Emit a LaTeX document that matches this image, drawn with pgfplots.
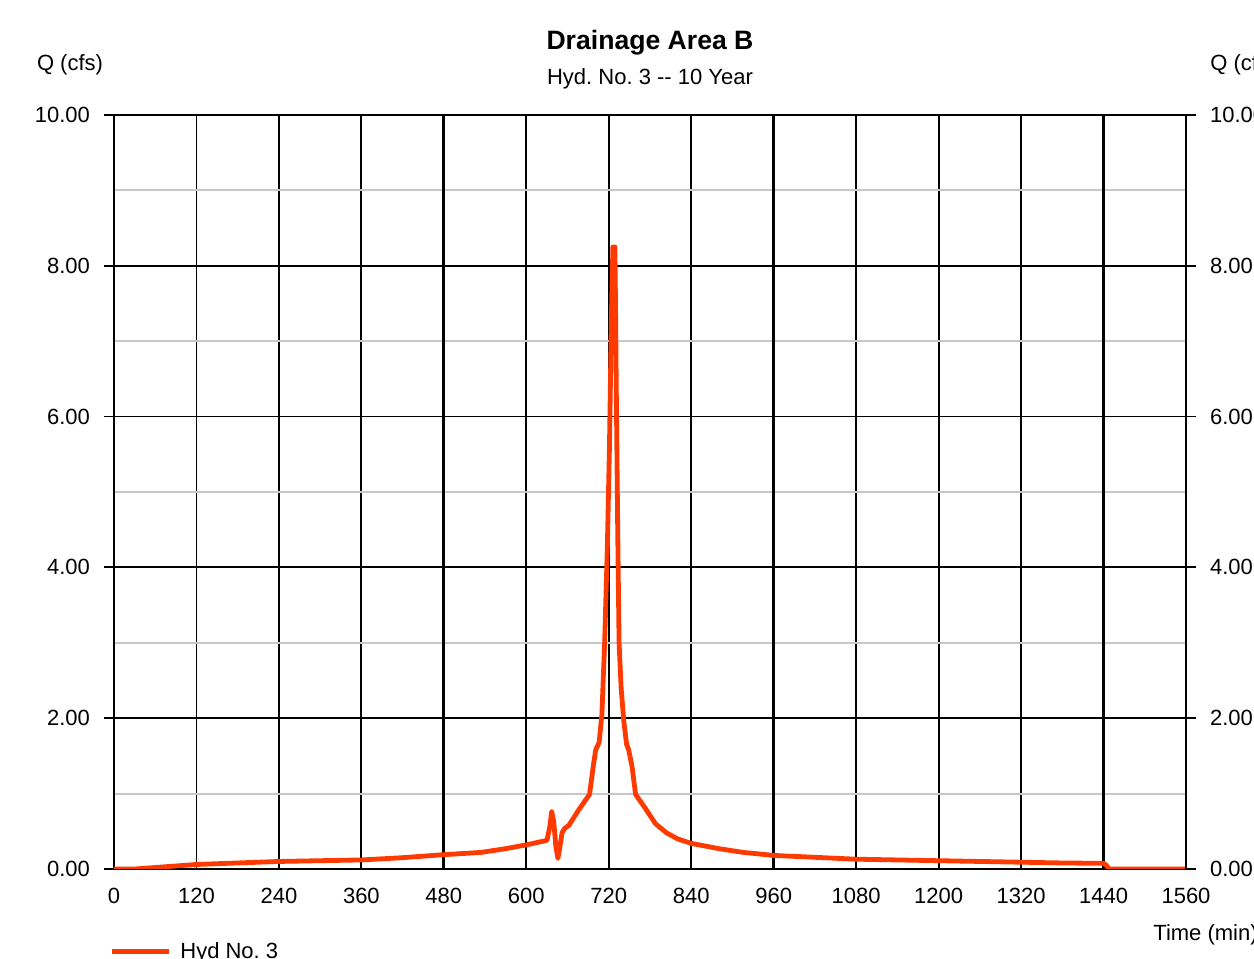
\documentclass[border=0pt]{standalone}
\usepackage{fontspec}
\setmainfont{Liberation Sans}
\usepackage{pgfplots}
\pgfplotsset{compat=1.18}
\frenchspacing

\definecolor{hydline}{RGB}{255,58,0}
\definecolor{minorgrid}{RGB}{200,200,200}

% Outflow hydrograph, time (min) vs. discharge (cfs)
\pgfplotstableread{
t      q
0      0.000
30     0.000
60     0.020
120    0.060
180    0.080
240    0.100
300    0.110
360    0.120
420    0.150
480    0.190
534    0.220
570    0.270
600    0.320
630    0.380
634    0.550
637    0.760
640    0.620
643    0.300
646    0.140
649    0.300
652    0.480
656    0.540
662    0.580
676    0.780
692    0.990
698    1.400
701    1.580
706    1.680
710    2.050
714    3.000
718    4.300
721    5.600
724    7.400
726    8.250
729    8.250
731    6.300
733    4.500
735    3.000
738    2.400
742    1.950
746    1.650
749    1.580
754    1.350
759    0.990
772    0.820
788    0.600
804    0.480
820    0.400
840    0.340
880    0.270
916    0.220
960    0.180
1020   0.155
1080   0.130
1140   0.120
1200   0.110
1260   0.100
1320   0.090
1380   0.080
1440   0.075
1444   0.050
1448   0.000
1560   0.000
}\hydro

\begin{document}
\begin{tikzpicture}
\useasboundingbox (-57pt,-45pt) rectangle (570pt,434.5pt);
\clip (-57pt,-45pt) rectangle (570pt,434.5pt);

\pgfplotsset{
  common/.style={
    at={(0pt,0pt)}, anchor=south west,
    scale only axis, width=536pt, height=377pt,
    xmin=0, xmax=1560, ymin=0, ymax=10,
    /pgf/number format/assume math mode=true,
    /pgf/number format/1000 sep={},
    ticklabel style={font=\fontsize{11}{13}\selectfont},
    tick align=outside,
    major tick length=5pt,
    tick style={black, line width=0.9pt},
    axis line style={black, line width=1pt},
    ytick={0,2,...,10},
    yticklabel={\pgfmathprintnumber[fixed,fixed zerofill,precision=2]{\tick}},
  },
}

\begin{axis}[
  common,
  xtick={0,120,...,1560},
  minor ytick={1,3,...,9},
  minor tick length=0pt,
  grid=both,
  major grid style={black, line width=0.9pt},
  minor grid style={minorgrid, line width=1pt},
  extra x ticks={480,960,1440},
  extra x tick labels={},
  extra x tick style={grid=major, major grid style={black, line width=1.4pt}, major tick length=0pt},
  xtick style={draw=none},
  ytick pos=left,
  xticklabel style={yshift=-1pt},
  yticklabel style={xshift=-3.5pt},
  legend cell align=left,
  legend image code/.code={\draw[hydline, line width=2.5pt] (0pt,0pt) -- (28.5pt,0pt);},
  legend style={draw=none, fill=none, inner sep=0pt,
    at={(axis description cs:0,0)}, anchor=west,
    xshift=-2.5pt, yshift=-41.3pt,
    nodes={inner xsep=4.5pt},
    font=\fontsize{11}{13}\selectfont},
]
\addplot[hydline, line width=2.4pt, line join=round] table[x=t, y=q] {\hydro};
\addlegendentry{Hyd No. 3}
\end{axis}

% right-hand discharge scale
\begin{axis}[
  common,
  axis x line=none,
  axis y line*=right,
  yticklabel style={xshift=3.5pt},
]
\end{axis}

\node[font=\bfseries\fontsize{13.3}{15}\selectfont] at (268pt,413pt) {Drainage Area B};
\node[font=\fontsize{11}{13}\selectfont] at (268pt,395pt) {Hyd. No. 3 -{}- 10 Year};
\node[font=\fontsize{11}{13}\selectfont] at (-22pt,402pt) {Q (cfs)};
\node[font=\fontsize{11}{13}\selectfont, anchor=west, inner sep=0pt] at (548pt,402pt) {Q (cfs)};
\node[font=\fontsize{11}{13}\selectfont, anchor=west, inner sep=0pt] at (519.5pt,-33pt) {Time (min)};
\end{tikzpicture}
\end{document}
